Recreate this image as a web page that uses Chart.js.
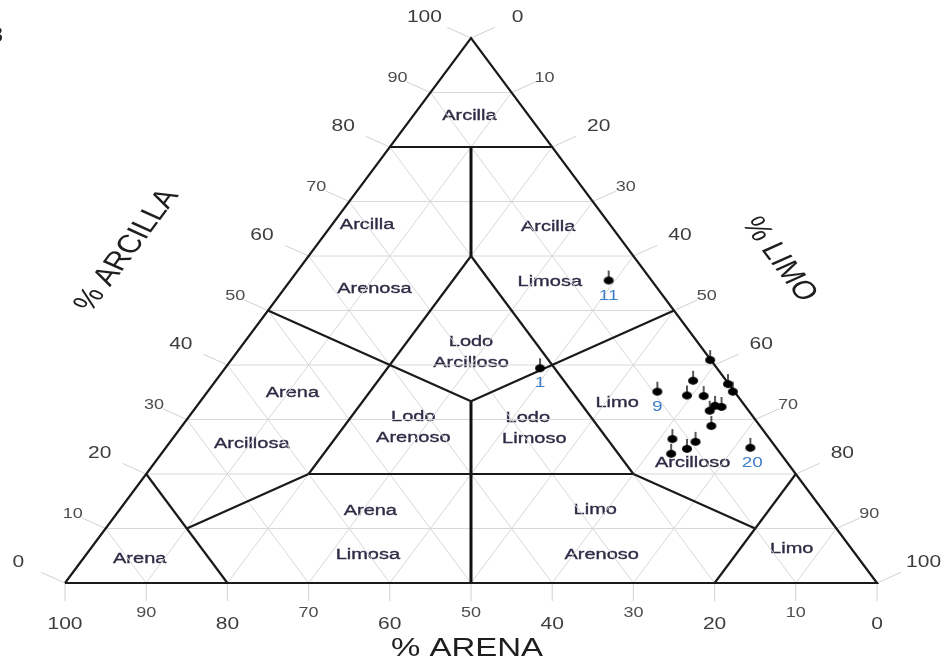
<!DOCTYPE html>
<html>
<head>
<meta charset="utf-8">
<title>Triangulo textural</title>
<script src="https://cdn.jsdelivr.net/npm/chart.js@4.4.1/dist/chart.umd.min.js"></script>
<style>
  html, body { margin: 0; padding: 0; background: #fff; }
  #wrap { width: 945px; height: 666px; }
</style>
</head>
<body>
<div id="wrap"><canvas id="triangulo" width="945" height="666"></canvas></div>
<script>
// Muestras: % arena, % limo, % arcilla
const arena   = [21.8, 5.3, 9.5, 0.1, 4.1, 6.2, 4.2, 0.1, 0.2, 3.7, 3.0, 4.8, 6.0, 12.0, 9.4, 11.1, 13.5, 3.2];
const limo    = [38.8, 39.2, 55.4, 59.0, 58.8, 59.4, 61.5, 63.4, 64.7, 63.8, 64.7, 63.6, 65.2, 61.6, 64.7, 64.3, 62.8, 72.0];
const arcilla = [39.4, 55.5, 35.1, 40.9, 37.1, 34.4, 34.3, 36.5, 35.1, 32.5, 32.3, 31.6, 28.8, 26.4, 25.9, 24.6, 23.7, 24.8];
const etiquetas = ['1', '11', '9', '', '', '', '', '', '', '', '', '', '', '', '', '', '', '20'];

// Marcas de los ejes (cada 10 %)
const marcas = [0, 10, 20, 30, 40, 50, 60, 70, 80, 90, 100];
const lineasGuia = [10, 20, 30, 40, 50, 60, 70, 80, 90];

// Limites de clases texturales [arena, limo, arcilla]
const C3 = 100 / 3;
const limites = [
  [[20, 0, 80], [0, 20, 80]],
  [[20, 20, 60], [60, 20, 20]],
  [[20, 20, 60], [20, 60, 20]],
  [[50, 0, 50], [C3, C3, C3]],
  [[0, 50, 50], [C3, C3, C3]],
  [[60, 20, 20], [20, 60, 20]],
  [[60, 20, 20], [80, 10, 10]],
  [[20, 60, 20], [10, 80, 10]],
  [[80, 0, 20], [80, 20, 0]],
  [[0, 80, 20], [20, 80, 0]]
];
// arena = limo (trazo mas grueso)
const limitesCentro = [
  [[10, 10, 80], [20, 20, 60]],
  [[C3, C3, C3], [50, 50, 0]]
];
const contorno = [[100, 0, 0], [0, 100, 0], [0, 0, 100], [100, 0, 0]];

// Nombres de clases
const clases = ['Arcilla', 'Arcilla', 'Arenosa', 'Arcilla', 'Limosa', 'Lodo', 'Arcilloso',
  'Arena', 'Arcillosa', 'Lodo', 'Arenoso', 'Lodo', 'Limoso', 'Limo', 'Arcilloso',
  'Arena', 'Limosa', 'Limo', 'Arenoso', 'Arena', 'Limo'];
// donde va cada nombre (x = limo + arcilla/2, y = arcilla)
const clasesXY = [[49.8, 85.8], [37.2, 65.7], [38.1, 54.0], [59.5, 65.3], [59.7, 55.2], [50.0, 44.2], [50.0, 40.4],
  [28.0, 35.0], [23.0, 25.5], [42.9, 30.5], [42.9, 26.6], [57.0, 30.3], [57.8, 26.4], [68.0, 33.0], [77.3, 22.0],
  [37.6, 13.2], [37.3, 5.1], [65.3, 13.4], [66.1, 5.1], [9.2, 4.5], [89.5, 6.2]];

const ternario = (s, t, c) => ({ x: t + c / 2, y: c });
const segmento = (a, b) => [ternario(...a), ternario(...b)];

const FUENTE = "'Liberation Sans', Arial, sans-serif";

// punto negro con palito vertical
function marcador() {
  const c = document.createElement('canvas');
  c.width = 12; c.height = 26;
  const g = c.getContext('2d');
  g.strokeStyle = '#111'; g.lineWidth = 1.4;
  g.beginPath(); g.moveTo(6, 13); g.lineTo(6, 3); g.stroke();
  g.fillStyle = '#000';
  g.beginPath(); g.ellipse(6, 13, 5, 3.9, 0, 0, Math.PI * 2); g.fill();
  return c;
}

const datasets = [];
function linea(puntos, color, ancho, orden) {
  datasets.push({
    data: puntos, showLine: true, pointRadius: 0, borderColor: color,
    borderWidth: ancho, fill: false, order: orden, clip: false
  });
}

lineasGuia.forEach(v => {
  linea(segmento([100 - v, 0, v], [0, 100 - v, v]), '#d8d8d8', 1, 4);
  linea(segmento([100 - v, v, 0], [0, v, 100 - v]), '#d8d8d8', 1, 4);
  linea(segmento([v, 100 - v, 0], [v, 0, 100 - v]), '#d8d8d8', 1, 4);
});
limites.forEach(l => linea(segmento(l[0], l[1]), '#1a1a1a', 2.2, 2));
limitesCentro.forEach(l => linea(segmento(l[0], l[1]), '#111', 3, 2));
linea(contorno.map(p => ternario(...p)), '#1a1a1a', 2.2, 1);

datasets.push({
  data: arena.map((s, i) => ternario(s, limo[i], arcilla[i])),
  showLine: false, pointStyle: marcador(), pointRadius: 5, order: 0, clip: false
});
const idxMuestras = datasets.length - 1;

function texto(ctx, txt, x, y, font, color, sq, ang, align, grosor) {
  ctx.save();
  ctx.translate(x, y);
  ctx.scale(1, sq);
  if (ang) ctx.rotate(ang);
  ctx.font = font;
  ctx.fillStyle = color;
  ctx.textAlign = align || 'center';
  ctx.textBaseline = 'middle';
  ctx.fillText(txt, 0, 0);
  if (grosor) {
    ctx.strokeStyle = color;
    ctx.lineWidth = grosor;
    ctx.strokeText(txt, 0, 0);
  }
  ctx.restore();
}

const ejes = {
  id: 'ejes',
  beforeDatasetsDraw(chart) {
    const { ctx, chartArea: a, scales: { x, y } } = chart;
    const sq = (a.height / a.width) / (Math.sqrt(3) / 2);
    const pix = (s, t, c) => ({ x: x.getPixelForValue(t + c / 2), y: y.getPixelForValue(c) });
    const n = Math.hypot(Math.sqrt(3) / 2, 0.5 * sq);
    const dIzq = { x: -Math.sqrt(3) / 2 / n, y: -0.5 * sq / n };
    const dDer = { x: Math.sqrt(3) / 2 / n, y: -0.5 * sq / n };

    ctx.save();
    ctx.strokeStyle = '#d0d0d0';
    ctx.lineWidth = 1;
    marcas.forEach(v => {
      const mayor = v % 20 === 0;
      const fMay = '21px ' + FUENTE, fMen = '18px ' + FUENTE;
      const col = mayor ? '#3d3d3d' : '#4d4d4d';
      const dist = mayor ? 51 : 36;
      // % arcilla (izquierda)
      let p = pix(100 - v, 0, v);
      ctx.beginPath(); ctx.moveTo(p.x, p.y); ctx.lineTo(p.x + dIzq.x * 26, p.y + dIzq.y * 26); ctx.stroke();
      texto(ctx, String(v), p.x + dIzq.x * dist, p.y + dIzq.y * dist, mayor ? fMay : fMen, col, sq);
      // % limo (derecha)
      p = pix(0, v, 100 - v);
      ctx.beginPath(); ctx.moveTo(p.x, p.y); ctx.lineTo(p.x + dDer.x * 26, p.y + dDer.y * 26); ctx.stroke();
      texto(ctx, String(v), p.x + dDer.x * dist, p.y + dDer.y * dist, mayor ? fMay : fMen, col, sq);
      // % arena (abajo)
      p = pix(v, 100 - v, 0);
      ctx.beginPath(); ctx.moveTo(p.x, p.y); ctx.lineTo(p.x, p.y + 18); ctx.stroke();
      texto(ctx, String(v), p.x, p.y + (mayor ? 42 : 30), mayor ? fMay : fMen, col, sq);
    });
    ctx.restore();

    // nombres de las clases
    clases.forEach((c, i) => {
      const [cx, cy] = clasesXY[i];
      texto(ctx, c, x.getPixelForValue(cx), y.getPixelForValue(cy), '20px ' + FUENTE, '#2e2c45', sq, 0, 'center', 0.45);
    });

    // titulos de los ejes
    const mi = pix(50, 0, 50), md = pix(0, 50, 50);
    texto(ctx, '% ARCILLA', mi.x - 141, mi.y - 60, '33px ' + FUENTE, '#1e1e1e', sq, -Math.PI / 3);
    texto(ctx, '% LIMO', md.x + 105, md.y - 51, '33px ' + FUENTE, '#1e1e1e', sq, Math.PI / 3);
    texto(ctx, '% ARENA', (a.left + a.right) / 2 - 4, a.bottom + 66, '33px ' + FUENTE, '#1e1e1e', sq);
    texto(ctx, '3', 3, 36, '22px ' + FUENTE, '#222', 1, 0, 'right');
  },
  afterDatasetsDraw(chart) {
    const { ctx, chartArea: a } = chart;
    const sq = (a.height / a.width) / (Math.sqrt(3) / 2);
    const meta = chart.getDatasetMeta(idxMuestras);
    etiquetas.forEach((t, i) => {
      if (!t) return;
      const el = meta.data[i];
      texto(ctx, t, el.x + (t === '20' ? 2 : 0), el.y + 15, '19px ' + FUENTE, '#3f7fc6', sq);
    });
  }
};

new Chart(document.getElementById('triangulo'), {
  type: 'scatter',
  data: { datasets },
  options: {
    responsive: false,
    animation: false,
    layout: { padding: { left: 65, right: 68, top: 38, bottom: 83 } },
    scales: {
      x: { type: 'linear', min: 0, max: 100, display: false },
      y: { type: 'linear', min: 0, max: 100, display: false }
    },
    plugins: { legend: { display: false }, tooltip: { enabled: false } },
    events: []
  },
  plugins: [ejes]
});
</script>
</body>
</html>
